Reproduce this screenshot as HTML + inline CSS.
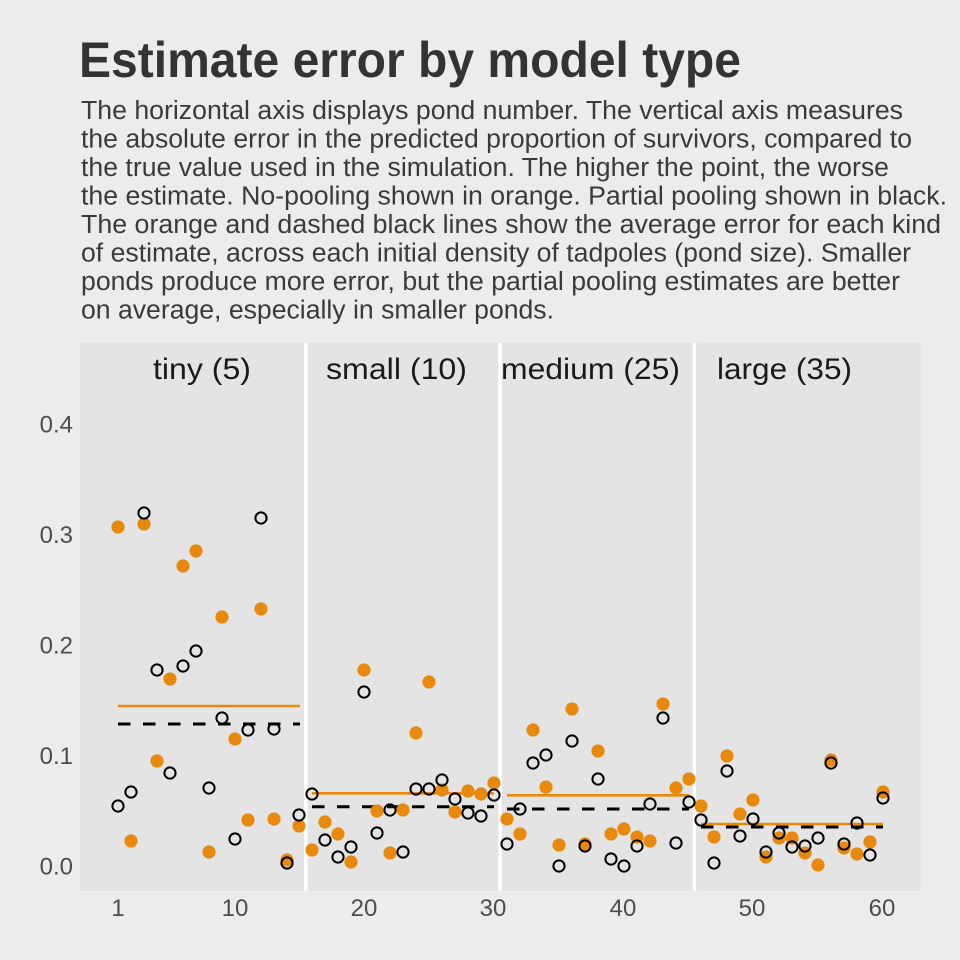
<!DOCTYPE html>
<html>
<head>
<meta charset="utf-8">
<style>
  html, body { margin: 0; padding: 0; background: #ECECEC; }
  svg { display: block; }
  text { font-family: "Liberation Sans", Arial, Helvetica, sans-serif; }
</style>
</head>
<body>
<svg width="960" height="960" viewBox="0 0 960 960" xmlns="http://www.w3.org/2000/svg">
  <rect x="0" y="0" width="960" height="960" fill="#ECECEC"/>

  <!-- Title -->
  <text x="79" y="77" font-size="50" font-weight="bold" fill="#333333" textLength="662" lengthAdjust="spacingAndGlyphs">Estimate error by model type</text>

  <!-- Subtitle -->
  <g font-size="25.5" fill="#3A3A3A">
    <text x="81" y="119" textLength="822" lengthAdjust="spacingAndGlyphs">The horizontal axis displays pond number. The vertical axis measures</text>
    <text x="81" y="147.5" textLength="831" lengthAdjust="spacingAndGlyphs">the absolute error in the predicted proportion of survivors, compared to</text>
    <text x="81" y="176" textLength="808" lengthAdjust="spacingAndGlyphs">the true value used in the simulation. The higher the point, the worse</text>
    <text x="81" y="204.5" textLength="866" lengthAdjust="spacingAndGlyphs">the estimate. No-pooling shown in orange. Partial pooling shown in black.</text>
    <text x="81" y="233" textLength="860" lengthAdjust="spacingAndGlyphs">The orange and dashed black lines show the average error for each kind</text>
    <text x="81" y="261.5" textLength="830" lengthAdjust="spacingAndGlyphs">of estimate, across each initial density of tadpoles (pond size). Smaller</text>
    <text x="81" y="290" textLength="819" lengthAdjust="spacingAndGlyphs">ponds produce more error, but the partial pooling estimates are better</text>
    <text x="81" y="318.5" textLength="473" lengthAdjust="spacingAndGlyphs">on average, especially in smaller ponds.</text>
  </g>

  <!-- Panel -->
  <rect x="80" y="343" width="841" height="548" fill="#E4E4E4"/>

  <!-- Dividers -->
  <g stroke="#FFFFFF" stroke-width="3.5">
    <line x1="305.8" y1="343" x2="305.8" y2="891"/>
    <line x1="500.1" y1="343" x2="500.1" y2="891"/>
    <line x1="694.4" y1="343" x2="694.4" y2="891"/>
  </g>

  <!-- Group labels -->
  <g font-size="29.5" fill="#1A1A1A">
    <text x="153" y="379" textLength="98" lengthAdjust="spacingAndGlyphs">tiny (5)</text>
    <text x="326" y="379" textLength="141" lengthAdjust="spacingAndGlyphs">small (10)</text>
    <text x="501" y="379" textLength="179" lengthAdjust="spacingAndGlyphs">medium (25)</text>
    <text x="717" y="379" textLength="135" lengthAdjust="spacingAndGlyphs">large (35)</text>
  </g>

  <!-- Y axis labels -->
  <g font-size="24" fill="#4D4D4D" text-anchor="end">
    <text x="73" y="874.7">0.0</text>
    <text x="73" y="764.2">0.1</text>
    <text x="73" y="653.7">0.2</text>
    <text x="73" y="543.2">0.3</text>
    <text x="73" y="432.7">0.4</text>
  </g>

  <!-- X axis labels -->
  <g font-size="24" fill="#4D4D4D" text-anchor="middle">
    <text x="118" y="916">1</text>
    <text x="235" y="916">10</text>
    <text x="364" y="916">20</text>
    <text x="493" y="916">30</text>
    <text x="623" y="916">40</text>
    <text x="752" y="916">50</text>
    <text x="882" y="916">60</text>
  </g>

  <!-- Average lines -->
  <g stroke="#E8890C" stroke-width="2.6">
    <line x1="118" y1="706" x2="300" y2="706"/>
    <line x1="312" y1="793.3" x2="494" y2="793.3"/>
    <line x1="507" y1="795.3" x2="689" y2="795.3"/>
    <line x1="701" y1="824" x2="883" y2="824"/>
  </g>
  <g stroke="#000000" stroke-width="3" stroke-dasharray="12.5 12.5">
    <line x1="118" y1="724" x2="300" y2="724"/>
    <line x1="312" y1="806.7" x2="494" y2="806.7"/>
    <line x1="507" y1="809" x2="689" y2="809"/>
    <line x1="701" y1="827" x2="883" y2="827"/>
  </g>

  <!-- Orange points (no pooling) -->
  <g fill="#E8890C">
    <circle cx="118" cy="527" r="6.6"/>
    <circle cx="131" cy="841" r="6.6"/>
    <circle cx="144" cy="524" r="6.6"/>
    <circle cx="157" cy="761" r="6.6"/>
    <circle cx="170" cy="679" r="6.6"/>
    <circle cx="183" cy="566" r="6.6"/>
    <circle cx="196" cy="551" r="6.6"/>
    <circle cx="209" cy="852" r="6.6"/>
    <circle cx="222" cy="617" r="6.6"/>
    <circle cx="235" cy="739" r="6.6"/>
    <circle cx="248" cy="820" r="6.6"/>
    <circle cx="261" cy="609" r="6.6"/>
    <circle cx="274" cy="819" r="6.6"/>
    <circle cx="287" cy="860" r="6.6"/>
    <circle cx="299" cy="826" r="6.6"/>

    <circle cx="312" cy="850" r="6.6"/>
    <circle cx="325" cy="822" r="6.6"/>
    <circle cx="338" cy="834" r="6.6"/>
    <circle cx="351" cy="862" r="6.6"/>
    <circle cx="364" cy="670" r="6.6"/>
    <circle cx="377" cy="811" r="6.6"/>
    <circle cx="390" cy="853" r="6.6"/>
    <circle cx="403" cy="810" r="6.6"/>
    <circle cx="416" cy="733" r="6.6"/>
    <circle cx="429" cy="682" r="6.6"/>
    <circle cx="442" cy="790" r="6.6"/>
    <circle cx="455" cy="812" r="6.6"/>
    <circle cx="468" cy="791" r="6.6"/>
    <circle cx="481" cy="794" r="6.6"/>
    <circle cx="494" cy="783" r="6.6"/>

    <circle cx="507" cy="819" r="6.6"/>
    <circle cx="520" cy="834" r="6.6"/>
    <circle cx="533" cy="730" r="6.6"/>
    <circle cx="546" cy="787" r="6.6"/>
    <circle cx="559" cy="845" r="6.6"/>
    <circle cx="572" cy="709" r="6.6"/>
    <circle cx="585" cy="844" r="6.6"/>
    <circle cx="598" cy="751" r="6.6"/>
    <circle cx="611" cy="834" r="6.6"/>
    <circle cx="624" cy="829" r="6.6"/>
    <circle cx="637" cy="837" r="6.6"/>
    <circle cx="650" cy="841" r="6.6"/>
    <circle cx="663" cy="704" r="6.6"/>
    <circle cx="676" cy="788" r="6.6"/>
    <circle cx="689" cy="779" r="6.6"/>

    <circle cx="701" cy="806" r="6.6"/>
    <circle cx="714" cy="837" r="6.6"/>
    <circle cx="727" cy="756" r="6.6"/>
    <circle cx="740" cy="814" r="6.6"/>
    <circle cx="753" cy="800" r="6.6"/>
    <circle cx="766" cy="857" r="6.6"/>
    <circle cx="779" cy="838" r="6.6"/>
    <circle cx="792" cy="838" r="6.6"/>
    <circle cx="805" cy="853" r="6.6"/>
    <circle cx="818" cy="865" r="6.6"/>
    <circle cx="831" cy="760" r="6.6"/>
    <circle cx="844" cy="848" r="6.6"/>
    <circle cx="857" cy="854" r="6.6"/>
    <circle cx="870" cy="842" r="6.6"/>
    <circle cx="883" cy="792" r="6.6"/>
  </g>

  <!-- Black open points (partial pooling) -->
  <g fill="none" stroke="#000000" stroke-width="2">
    <circle cx="118" cy="806" r="5.6"/>
    <circle cx="131" cy="792" r="5.6"/>
    <circle cx="144" cy="513" r="5.6"/>
    <circle cx="157" cy="670" r="5.6"/>
    <circle cx="170" cy="773" r="5.6"/>
    <circle cx="183" cy="666" r="5.6"/>
    <circle cx="196" cy="651" r="5.6"/>
    <circle cx="209" cy="788" r="5.6"/>
    <circle cx="222" cy="718" r="5.6"/>
    <circle cx="235" cy="839" r="5.6"/>
    <circle cx="248" cy="730" r="5.6"/>
    <circle cx="261" cy="518" r="5.6"/>
    <circle cx="274" cy="729" r="5.6"/>
    <circle cx="287" cy="863" r="5.6"/>
    <circle cx="299" cy="815" r="5.6"/>

    <circle cx="312" cy="794" r="5.6"/>
    <circle cx="325" cy="840" r="5.6"/>
    <circle cx="338" cy="857" r="5.6"/>
    <circle cx="351" cy="847" r="5.6"/>
    <circle cx="364" cy="692" r="5.6"/>
    <circle cx="377" cy="833" r="5.6"/>
    <circle cx="390" cy="810" r="5.6"/>
    <circle cx="403" cy="852" r="5.6"/>
    <circle cx="416" cy="789" r="5.6"/>
    <circle cx="429" cy="789" r="5.6"/>
    <circle cx="442" cy="780" r="5.6"/>
    <circle cx="455" cy="799" r="5.6"/>
    <circle cx="468" cy="813" r="5.6"/>
    <circle cx="481" cy="816" r="5.6"/>
    <circle cx="494" cy="795" r="5.6"/>

    <circle cx="507" cy="844" r="5.6"/>
    <circle cx="520" cy="809" r="5.6"/>
    <circle cx="533" cy="763" r="5.6"/>
    <circle cx="546" cy="755" r="5.6"/>
    <circle cx="559" cy="866" r="5.6"/>
    <circle cx="572" cy="741" r="5.6"/>
    <circle cx="585" cy="846" r="5.6"/>
    <circle cx="598" cy="779" r="5.6"/>
    <circle cx="611" cy="859" r="5.6"/>
    <circle cx="624" cy="866" r="5.6"/>
    <circle cx="637" cy="846" r="5.6"/>
    <circle cx="650" cy="804" r="5.6"/>
    <circle cx="663" cy="718" r="5.6"/>
    <circle cx="676" cy="843" r="5.6"/>
    <circle cx="689" cy="802" r="5.6"/>

    <circle cx="701" cy="820" r="5.6"/>
    <circle cx="714" cy="863" r="5.6"/>
    <circle cx="727" cy="771" r="5.6"/>
    <circle cx="740" cy="836" r="5.6"/>
    <circle cx="753" cy="819" r="5.6"/>
    <circle cx="766" cy="852" r="5.6"/>
    <circle cx="779" cy="833" r="5.6"/>
    <circle cx="792" cy="847" r="5.6"/>
    <circle cx="805" cy="846" r="5.6"/>
    <circle cx="818" cy="838" r="5.6"/>
    <circle cx="831" cy="763" r="5.6"/>
    <circle cx="844" cy="844" r="5.6"/>
    <circle cx="857" cy="823" r="5.6"/>
    <circle cx="870" cy="855" r="5.6"/>
    <circle cx="883" cy="798" r="5.6"/>
  </g>
</svg>
</body>
</html>
